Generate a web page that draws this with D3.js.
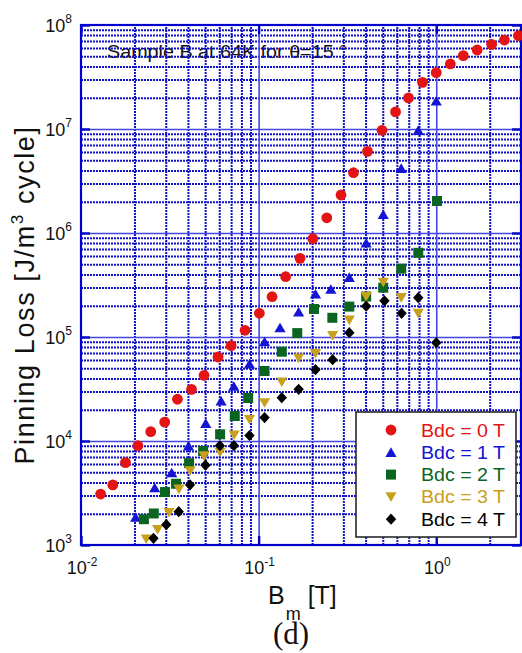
<!DOCTYPE html>
<html>
<head>
<meta charset="utf-8">
<script src="https://cdn.jsdelivr.net/npm/d3@7"></script>
<style>
  body { margin: 0; background: #fff; }
  text { font-family: "Liberation Sans", Arial, Helvetica, sans-serif; }
</style>
</head>
<body>
<svg id="chart" width="522" height="653"></svg>
<script>
// Pinning loss per cycle vs. AC field amplitude Bm, for several DC bias fields
const bm0   = [0.0129, 0.0151, 0.0178, 0.0209, 0.0247, 0.0296, 0.0349, 0.0419, 0.0493, 0.0591, 0.0700, 0.0839,
               0.101, 0.119, 0.142, 0.171, 0.202, 0.242, 0.291, 0.342, 0.410, 0.495, 0.590, 0.698, 0.837,
               1.00, 1.20, 1.42, 1.70, 2.05, 2.42, 2.90];
const loss0 = [3090, 3780, 6190, 9010, 12300, 15200, 25200, 31400, 42800, 64200, 82500, 116000,
               169000, 244000, 380000, 571000, 881000, 1.40e6, 2.32e6, 3.80e6, 6.10e6, 9.72e6, 1.46e7, 1.99e7, 2.81e7,
               3.48e7, 4.22e7, 5.07e7, 5.75e7, 6.52e7, 7.17e7, 7.89e7];

const bm1   = [0.0203, 0.0260, 0.0324, 0.0403, 0.0504, 0.0615, 0.0725, 0.0888, 0.108, 0.132, 0.168, 0.209,
               0.255, 0.324, 0.403, 0.503, 0.635, 0.792, 1.00];
const loss1 = [1850, 3560, 4960, 8990, 14800, 24300, 33600, 55000, 90100, 123000, 174000, 259000,
               288000, 375000, 801000, 1.51e6, 4.19e6, 9.72e6, 1.86e7];

const bm2   = [0.0226, 0.0257, 0.0297, 0.0343, 0.0406, 0.0487, 0.0607, 0.0734, 0.0873, 0.108, 0.135, 0.165,
               0.205, 0.260, 0.324, 0.403, 0.503, 0.635, 0.792, 1.01];
const loss2 = [1770, 2010, 3230, 3880, 6120, 8020, 11600, 17400, 25900, 47100, 72200, 109000,
               186000, 153000, 196000, 245000, 298000, 454000, 645000, 2.03e6];

const bm3   = [0.0233, 0.0270, 0.0313, 0.0356, 0.0411, 0.0493, 0.0607, 0.0728, 0.0888, 0.108, 0.135, 0.168,
               0.209, 0.261, 0.324, 0.403, 0.503, 0.635, 0.792];
const loss3 = [1140, 1410, 2050, 3440, 5170, 7180, 7790, 11400, 16100, 23300, 36900, 62800,
               69400, 103000, 145000, 244000, 336000, 239000, 169000];

const bm4   = [0.0256, 0.0302, 0.0355, 0.0411, 0.0502, 0.0605, 0.0726, 0.0888, 0.108, 0.135, 0.168, 0.209,
               0.261, 0.324, 0.403, 0.511, 0.638, 0.792, 1.00];
const loss4 = [1160, 1570, 2090, 3790, 5850, 9010, 9010, 11300, 16800, 26100, 31400, 48500,
               60500, 110000, 198000, 223000, 169000, 239000, 88100];

const seriesLabels = ["Bdc = 0 T", "Bdc = 1 T", "Bdc = 2 T", "Bdc = 3 T", "Bdc = 4 T"];
const xTickExponents = [-2, -1, 0];
const yTickExponents = [3, 4, 5, 6, 7, 8];
const annotation = "Sample B at 64K for \u03b8=15 \u00b0";

const colors = ["#e41414", "#1414d2", "#0b6420", "#c8a01e", "#000000"];
const shapes = ["circle", "triUp", "square", "triDown", "diamond"];

const svg = d3.select("#chart");
const x = d3.scaleLog().domain([0.01, 3]).range([81, 521]);
const y = d3.scaleLog().domain([1e3, 1e8]).range([545, 25]);
const [x0, x1] = x.range();
const [y0, y1] = y.range();

// minor grid positions: 2..9 times each decade
const minorX = [], minorY = [];
xTickExponents.forEach(e => { for (let k = 2; k <= 9; k++) { const v = k * Math.pow(10, e); if (v < 2.99) minorX.push(v); } });
yTickExponents.slice(0, -1).forEach(e => { for (let k = 2; k <= 9; k++) minorY.push(k * Math.pow(10, e)); });
const majorX = xTickExponents.map(e => Math.pow(10, e));
const majorY = yTickExponents.map(e => Math.pow(10, e));

// annotation sits beneath the grid
svg.append("text")
  .attr("x", 107).attr("y", 58)
  .attr("font-size", 18).attr("fill", "#111")
  .attr("textLength", 240).attr("lengthAdjust", "spacingAndGlyphs")
  .text(annotation);

// dotted minor grid
const gridMinor = svg.append("g");
gridMinor.append("g").attr("transform", `translate(0,${y0})`)
  .call(d3.axisBottom(x).tickValues(minorX).tickSize(-(y0 - y1)).tickFormat(""));
gridMinor.append("g").attr("transform", `translate(${x0},0)`)
  .call(d3.axisLeft(y).tickValues(minorY).tickSize(-(x1 - x0)).tickFormat(""));
gridMinor.selectAll(".domain").remove();
gridMinor.selectAll("line")
  .attr("stroke", "#1010c4").attr("stroke-width", 2).attr("stroke-dasharray", "2,1");

// solid decade grid
const gridMajor = svg.append("g");
gridMajor.append("g").attr("transform", `translate(0,${y0})`)
  .call(d3.axisBottom(x).tickValues(majorX.slice(1)).tickSize(-(y0 - y1)).tickFormat(""));
gridMajor.append("g").attr("transform", `translate(${x0},0)`)
  .call(d3.axisLeft(y).tickValues(majorY.slice(1, -1)).tickSize(-(x1 - x0)).tickFormat(""));
gridMajor.selectAll(".domain").remove();
gridMajor.selectAll("line").attr("stroke", "#4646e6").attr("stroke-width", 1.6);

// inward decade ticks on all four sides
const tickLen = 9;
const ticks = svg.append("g");
ticks.append("g").attr("transform", `translate(${x0},0)`)
  .call(d3.axisRight(y).tickValues(majorY).tickSize(tickLen).tickFormat(""));
ticks.append("g").attr("transform", `translate(${x1},0)`)
  .call(d3.axisLeft(y).tickValues(majorY).tickSize(tickLen).tickFormat(""));
ticks.append("g").attr("transform", `translate(0,${y0})`)
  .call(d3.axisTop(x).tickValues(majorX).tickSize(tickLen).tickFormat(""));
ticks.append("g").attr("transform", `translate(0,${y1})`)
  .call(d3.axisBottom(x).tickValues(majorX).tickSize(tickLen).tickFormat(""));
ticks.selectAll(".domain").remove();
ticks.selectAll("line").attr("stroke", "#0000c8").attr("stroke-width", 2.4);

// frame
svg.append("rect")
  .attr("x", x0).attr("y", y1).attr("width", x1 - x0).attr("height", y0 - y1)
  .attr("fill", "none").attr("stroke", "#0000cc").attr("stroke-width", 2.2);

// tick labels: 10 with superscript exponent
const yLab = svg.append("g");
yTickExponents.forEach(e => {
  const t = yLab.append("text")
    .attr("x", 72).attr("y", y(Math.pow(10, e)) + 6.5)
    .attr("text-anchor", "end").attr("font-size", 18).attr("fill", "#111");
  t.append("tspan").text("10");
  t.append("tspan").attr("font-size", 12).attr("dy", -8.5).text(String(e));
});
const xLab = svg.append("g");
xTickExponents.forEach(e => {
  const t = xLab.append("text")
    .attr("x", x(Math.pow(10, e)) + 1).attr("y", 573.5)
    .attr("text-anchor", "middle").attr("font-size", 18).attr("fill", "#111");
  t.append("tspan").text("10");
  t.append("tspan").attr("font-size", 12).attr("dy", -8).text(String(e));
});

// axis titles
const yt = svg.append("text")
  .attr("transform", "translate(34,295) rotate(-90)")
  .attr("text-anchor", "middle").attr("font-size", 27).attr("fill", "#111")
  .style("letter-spacing", "1.6px");
yt.append("tspan").text("Pinning Loss [J/m");
yt.append("tspan").attr("font-size", 17).attr("dy", -11).text("3");
yt.append("tspan").attr("dy", 11).text(" cycle]");

const xt = svg.append("text")
  .attr("x", 268).attr("y", 603.5).attr("font-size", 25).attr("fill", "#111");
xt.append("tspan").text("B");
xt.append("tspan").attr("font-size", 18).attr("dy", 16).attr("dx", 1).text("m");
xt.append("tspan").attr("dy", -16).text(" [T]");

svg.append("text")
  .attr("x", 291).attr("y", 644)
  .attr("text-anchor", "middle")
  .style("font-family", "'Liberation Serif', 'Times New Roman', serif")
  .attr("font-size", 31).attr("fill", "#111")
  .text("(d)");

// marker shapes, centred on their bounding box
function markerPath(shape) {
  switch (shape) {
    case "circle":  return "M5.4,0A5.4,5.4,0,1,1,-5.4,0A5.4,5.4,0,1,1,5.4,0Z";
    case "triUp":   return "M0,-5L5.6,4.6L-5.6,4.6Z";
    case "triDown": return "M0,5L5.6,-4.6L-5.6,-4.6Z";
    case "square":  return "M-5,-5H5V5H-5Z";
    case "diamond": return "M0,-5.6L5.2,0L0,5.6L-5.2,0Z";
  }
}

const series = [
  { bm: bm0, loss: loss0 },
  { bm: bm1, loss: loss1 },
  { bm: bm2, loss: loss2 },
  { bm: bm3, loss: loss3 },
  { bm: bm4, loss: loss4 }
];

const marks = svg.append("g");
series.forEach((s, i) => {
  marks.append("g").selectAll("path")
    .data(s.bm.map((b, j) => ({ b, l: s.loss[j] })))
    .join("path")
    .attr("d", markerPath(shapes[i]))
    .attr("transform", d => `translate(${x(d.b)},${y(d.l)})`)
    .attr("fill", colors[i]);
});

// legend
const lg = svg.append("g");
lg.append("rect")
  .attr("x", 356).attr("y", 412).attr("width", 160).attr("height", 125)
  .attr("fill", "#fff").attr("stroke", "#2a2a2a").attr("stroke-width", 1.6);
seriesLabels.forEach((lab, i) => {
  const cy = 430 + i * 22.3;
  lg.append("path").attr("d", markerPath(shapes[i]))
    .attr("transform", `translate(391,${cy})`).attr("fill", colors[i]);
  lg.append("text")
    .attr("x", 421).attr("y", cy + 6.5)
    .attr("font-size", 18).attr("fill", colors[i])
    .attr("textLength", 84).attr("lengthAdjust", "spacingAndGlyphs")
    .text(lab);
});
</script>
</body>
</html>
